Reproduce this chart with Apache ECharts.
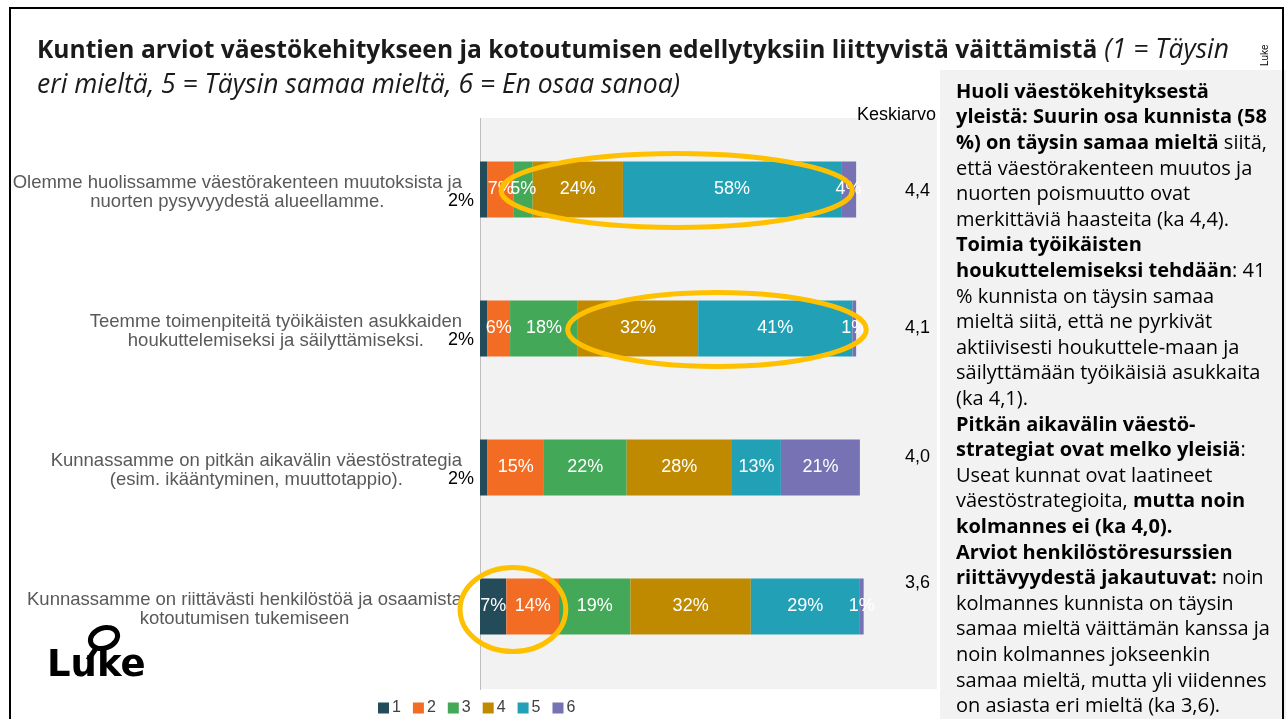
<!DOCTYPE html>
<html>
<head>
<meta charset="utf-8">
<script src="https://cdn.jsdelivr.net/npm/echarts@6/dist/echarts.min.js"></script>
<style>
  html, body { margin: 0; padding: 0; background: #fff; }
  #main { width: 1286px; height: 719px; }
</style>
</head>
<body>
<div id="main"></div>
<script>
// väittämät (ylhäältä alas)
var vaittamat = [
  'Olemme huolissamme väestörakenteen muutoksista ja\nnuorten pysyvyydestä alueellamme.',
  'Teemme toimenpiteitä työikäisten asukkaiden\nhoukuttelemiseksi ja säilyttämiseksi.',
  'Kunnassamme on pitkän aikavälin väestöstrategia\n(esim. ikääntyminen, muuttotappio).',
  'Kunnassamme on riittävästi henkilöstöä ja osaamista\nkotoutumisen tukemiseen'
];
var sarjat = ['1', '2', '3', '4', '5', '6'];
var vastaus1 = [2, 2, 2, 7];
var vastaus2 = [7, 6, 15, 14];
var vastaus3 = [5, 18, 22, 19];
var vastaus4 = [24, 32, 28, 32];
var vastaus5 = [58, 41, 13, 29];
var vastaus6 = [4, 1, 21, 1];
var keskiarvot = ['4,4', '4,1', '4,0', '3,6'];
// korostusrenkaat: [rivi, alku %, loppu %]
var korostukset = [[0, 5.6, 99], [1, 23.3, 102.7], [3, -5.3, 22.8]];

var varit = ['#234B5A', '#F36C24', '#43A857', '#C08A00', '#22A1B6', '#7672B4'];
var kaikki = [vastaus1, vastaus2, vastaus3, vastaus4, vastaus5, vastaus6];

var chart = echarts.init(document.getElementById('main'));

var series = sarjat.map(function (nimi, i) {
  var data = kaikki[i].map(function (v, r) {
    var d = { value: v };
    // pienet 2 % -osuudet näytetään palkin vasemmalla puolella
    if (i === 0 && v < 5) {
      d.label = { position: 'left', distance: 6, offset: [0, 12], color: '#000' };
    }
    return d;
  });
  return {
    name: nimi,
    type: 'bar',
    stack: 'kaikki',
    barWidth: 56,
    itemStyle: { color: varit[i] },
    label: {
      show: true,
      position: 'inside',
      color: '#fff',
      fontFamily: 'Liberation Sans',
      fontSize: 18,
      formatter: '{c}%'
    },
    data: data
  };
});

var option = {
  animation: false,
  title: {
    left: 32,
    top: 28,
    text: '{b|Kuntien arviot väestökehitykseen ja kotoutumisen edellytyksiin liittyvistä väittämistä}{i| (1 = Täysin}\n{i|eri mieltä, 5 = Täysin samaa mieltä, 6 = En osaa sanoa)}',
    textStyle: {
      rich: {
        b: { fontFamily: 'Open Sans', fontWeight: 'bold', fontSize: 24.6, color: '#1a1a1a', lineHeight: 35 },
        i: { fontFamily: 'Open Sans', fontStyle: 'italic', fontWeight: 'normal', fontSize: 26.5, color: '#1a1a1a', lineHeight: 35 }
      }
    }
  },
  legend: {
    data: sarjat,
    left: 373,
    top: 695,
    itemWidth: 11,
    itemHeight: 11,
    itemGap: 12,
    icon: 'rect',
    textStyle: { fontFamily: 'Liberation Sans', fontSize: 16, color: '#404040', padding: [0, 0, 0, -2] }
  },
  grid: { left: 480, top: 120, width: 457, height: 556 },
  xAxis: { type: 'value', min: 0, max: 121.5, show: false },
  yAxis: [{
    type: 'category',
    inverse: true,
    data: vaittamat,
    axisLine: { show: false },
    axisTick: { show: false },
    axisLabel: {
      margin: 18,
      padding: [5, 0, 0, 0],
      formatter: function (v) {
        return v.split('\n').map(function (s) { return '{c|' + s + '}'; }).join('\n');
      },
      rich: {
        c: { align: 'center', fontFamily: 'Liberation Sans', fontSize: 18.5, color: '#595959', lineHeight: 19 }
      }
    }
  }, {
    type: 'category',
    inverse: true,
    position: 'right',
    data: keskiarvot,
    axisLine: { show: false },
    axisTick: { show: false },
    axisLabel: {
      inside: true,
      margin: 7,
      formatter: function (v, idx) { return '{k' + idx + '|' + v + '}'; },
      rich: {
        k0: { fontFamily: 'Liberation Sans', fontSize: 18, color: '#000', padding: [3, 0, 0, 0] },
        k1: { fontFamily: 'Liberation Sans', fontSize: 18, color: '#000', padding: [0, 0, 0, 0] },
        k2: { fontFamily: 'Liberation Sans', fontSize: 18, color: '#000', padding: [0, 0, 20, 0] },
        k3: { fontFamily: 'Liberation Sans', fontSize: 18, color: '#000', padding: [0, 0, 46, 0] }
      }
    }
  }],
  series: series
};
chart.setOption(option);

// oikean reunan tekstipaneeli
var paneeli = [
  '{b|Huoli väestökehityksestä}',
  '{b|yleistä: Suurin osa kunnista (58}',
  '{b|%) on täysin samaa mieltä}{n| siitä,}',
  '{n|että väestörakenteen muutos ja}',
  '{n|nuorten poismuutto ovat}',
  '{n|merkittäviä haasteita (ka 4,4).}',
  '{b|Toimia työikäisten}',
  '{b|houkuttelemiseksi tehdään}{n|: 41}',
  '{n|% kunnista on täysin samaa}',
  '{n|mieltä siitä, että ne pyrkivät}',
  '{n|aktiivisesti houkuttele-maan ja}',
  '{n|säilyttämään työikäisiä asukkaita}',
  '{n|(ka 4,1).}',
  '{b|Pitkän aikavälin väestö-}',
  '{b|strategiat ovat melko yleisiä}{n|:}',
  '{n|Useat kunnat ovat laatineet}',
  '{n|väestöstrategioita, }{b|mutta noin}',
  '{b|kolmannes ei (ka 4,0).}',
  '{b|Arviot henkilöstöresurssien}',
  '{b|riittävyydestä jakautuvat:}{n| noin}',
  '{n|kolmannes kunnista on täysin}',
  '{n|samaa mieltä väittämän kanssa ja}',
  '{n|noin kolmannes jokseenkin}',
  '{n|samaa mieltä, mutta yli viidennes}',
  '{n|on asiasta eri mieltä (ka 3,6).}'
];

var grafiikka = [
  { type: 'rect', z: -10, shape: { x: 480, y: 118, width: 457, height: 571 }, style: { fill: '#F2F2F2' } },
  { type: 'line', z: -9, shape: { x1: 480.5, y1: 118, x2: 480.5, y2: 690 }, style: { stroke: '#BFBFBF', lineWidth: 1 } },
  { type: 'rect', z: -10, shape: { x: 940, y: 70, width: 346, height: 649 }, style: { fill: '#F2F2F2' } },
  { type: 'rect', z: -10, shape: { x: 10, y: 8, width: 1273, height: 730 }, style: { fill: null, stroke: '#000', lineWidth: 2 } },
  { type: 'text', left: 857, top: 106, style: { text: 'Keskiarvo', font: '18px "Liberation Sans"', fill: '#000' } },
  { type: 'text', x: 1260, y: 66, rotation: Math.PI / 2, style: { text: 'Luke', font: '10px "Liberation Sans"', fill: '#000', textAlign: 'left', textVerticalAlign: 'top' } },
  {
    type: 'text', left: 956, top: 82,
    style: {
      text: paneeli.join('\n'),
      rich: {
        b: { fontFamily: 'Open Sans', fontWeight: 'bold', fontSize: 20, color: '#000', lineHeight: 25.6 },
        n: { fontFamily: 'Open Sans', fontSize: 20, color: '#262626', lineHeight: 25.6 }
      }
    }
  },
  // Luke-logo
  { type: 'text', left: 47, top: 648, style: { text: 'Luke', font: 'bold 37px "DejaVu Sans"', fill: '#000' } },
  { type: 'ellipse', shape: { cx: 104, cy: 638, rx: 14, ry: 10 }, rotation: 0.35, originX: 104, originY: 638, style: { fill: null, stroke: '#000', lineWidth: 5 } },
  { type: 'line', shape: { x1: 97, y1: 647, x2: 88, y2: 660 }, style: { stroke: '#000', lineWidth: 5 } }
];

korostukset.forEach(function (k) {
  var a = chart.convertToPixel({ gridIndex: 0 }, [k[1], k[0]]);
  var b = chart.convertToPixel({ gridIndex: 0 }, [k[2], k[0]]);
  var ry = k[0] === 3 ? 42 : 37;
  grafiikka.push({
    type: 'ellipse', z: 100,
    shape: { cx: (a[0] + b[0]) / 2, cy: a[1] + (k[0] === 3 ? 3 : 1), rx: (b[0] - a[0]) / 2, ry: ry },
    style: { fill: null, stroke: '#FFC000', lineWidth: 5 }
  });
});

chart.setOption({ graphic: grafiikka });
</script>
</body>
</html>
